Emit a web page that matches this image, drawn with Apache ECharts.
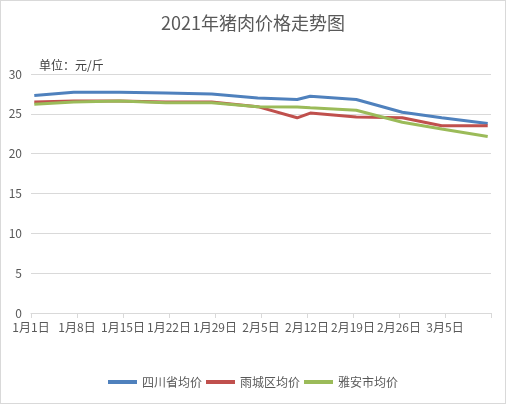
<!DOCTYPE html>
<html>
<head>
<meta charset="utf-8">
<script src="https://cdn.jsdelivr.net/npm/echarts@6/dist/echarts.min.js"></script>
<style>
  html, body { margin: 0; padding: 0; background: #fff; }
  #chart { width: 506px; height: 404px; box-sizing: border-box; border: 1px solid #d9d9d9; }
</style>
</head>
<body>
<div id="chart"></div>
<script>
// sample dates (month/day, 2021) and weekly prices in 元/斤
var dates = ['1/1', '1/7', '1/14', '1/21', '1/28', '2/4', '2/10', '2/12', '2/19', '2/26', '3/4', '3/11'];
var sichuan = [27.3, 27.7, 27.7, 27.6, 27.5, 27.0, 26.8, 27.2, 26.8, 25.2, 24.5, 23.8];
var yucheng = [26.5, 26.6, 26.6, 26.5, 26.5, 25.9, 24.5, 25.1, 24.6, 24.5, 23.5, 23.5];
var yaan = [26.2, 26.5, 26.6, 26.4, 26.4, 25.9, 25.85, 25.75, 25.45, 23.95, 23.1, 22.15];
var seriesNames = ['四川省均价', '雨城区均价', '雅安市均价'];
var colors = ['#4F81BD', '#C0504D', '#9BBB59'];

var FONT = 'Noto Sans CJK SC';
var start = new Date(2021, 0, 1);

function dayIndex(md) {
    var p = md.split('/');
    var d = new Date(2021, +p[0] - 1, +p[1]);
    return Math.round((d - start) / 86400000);
}
function pairs(vals) {
    var out = [];
    for (var i = 0; i < dates.length; i++) {
        // point sits in the middle of its day slot, like Excel's date axis
        out.push([dayIndex(dates[i]) + 0.5, vals[i]]);
    }
    return out;
}

var chart = echarts.init(document.getElementById('chart'));
var lists = [sichuan, yucheng, yaan];
var series = [];
for (var i = 0; i < lists.length; i++) {
    series.push({
        name: seriesNames[i],
        type: 'line',
        showSymbol: false,
        lineStyle: { width: 3, color: colors[i] },
        itemStyle: { color: colors[i] },
        data: pairs(lists[i])
    });
}

var option = {
    animation: false,
    textStyle: { fontFamily: FONT },
    title: [
        {
            text: '2021年猪肉价格走势图',
            left: 'center',
            top: 8,
            textStyle: { fontSize: 18, fontWeight: 'normal', color: '#595959', fontFamily: FONT }
        },
        {
            text: '单位：元/斤',
            left: 33,
            top: 53,
            textStyle: { fontSize: 12, fontWeight: 'normal', color: '#404040', fontFamily: FONT }
        }
    ],
    legend: {
        bottom: 10,
        left: 'center',
        icon: 'rect',
        itemWidth: 29,
        itemHeight: 4,
        itemGap: 4,
        textStyle: { fontSize: 12, color: '#595959', fontFamily: FONT },
        data: seriesNames
    },
    grid: { left: 30, right: 14, top: 73, bottom: 90 },
    xAxis: {
        type: 'value',
        min: 0,
        max: 70,
        interval: 7,
        axisLine: { show: true, lineStyle: { color: '#d9d9d9' } },
        axisTick: { show: true, length: 5, lineStyle: { color: '#d9d9d9' } },
        splitLine: { show: false },
        axisLabel: {
            color: '#595959',
            fontSize: 12,
            margin: 8,
            formatter: function (v) {
                if (v >= 70) return '';
                var d = new Date(2021, 0, 1 + v);
                return (d.getMonth() + 1) + '月' + d.getDate() + '日';
            }
        }
    },
    yAxis: {
        type: 'value',
        min: 0,
        max: 30,
        interval: 5,
        axisLine: { show: false },
        axisTick: { show: false },
        splitLine: { lineStyle: { color: '#d9d9d9' } },
        axisLabel: { color: '#595959', fontSize: 12, margin: 9 }
    },
    series: series
};
chart.setOption(option);
</script>
</body>
</html>
